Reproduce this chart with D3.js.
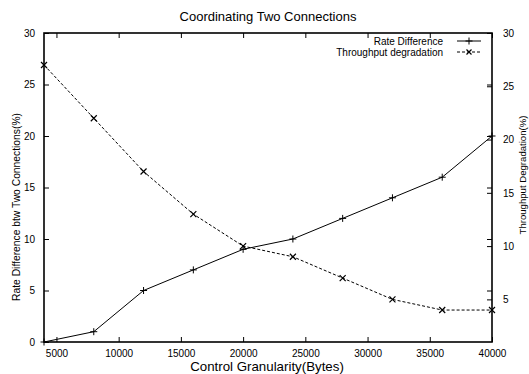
<!DOCTYPE html>
<html>
<head>
<meta charset="utf-8">
<script src="https://cdn.jsdelivr.net/npm/d3@7/dist/d3.min.js"></script>
<style>
  html, body { margin: 0; padding: 0; background: #fff; }
  svg { display: block; font-family: "Liberation Sans", Arial, Helvetica, sans-serif; }
</style>
</head>
<body>
<svg id="chart" width="529" height="374"></svg>
<script>
// ---- data ----
const granularity = [4000, 8000, 12000, 16000, 20000, 24000, 28000, 32000, 36000, 40000];
const rateDifference = [0, 1, 5, 7, 9, 10, 12, 14, 16, 20];
const throughputDegradation = [27, 22, 17, 13, 10, 9, 7, 5, 4, 4];
const xTicks = [5000, 10000, 15000, 20000, 25000, 30000, 35000, 40000];
const yTicks = [0, 5, 10, 15, 20, 25, 30];
const y2Ticks = [5, 10, 15, 20, 25, 30];
const titleText = "Coordinating Two Connections";
const xLabel = "Control Granularity(Bytes)";
const yLabel = "Rate Difference btw Two Connections(%)";
const y2Label = "Throughput Degradation(%)";
const legendNames = ["Rate Difference", "Throughput degradation"];

(function () {
// ---- layout ----
const L = 44, R = 492, T = 33, B = 342;
const svg = d3.select("#chart");
svg.append("rect").attr("width", 529).attr("height", 374).attr("fill", "#fff");

const x = d3.scaleLinear().domain([4000, 40000]).range([L, R]);
const y = d3.scaleLinear().domain([0, 30]).range([B, T]);
const y2 = d3.scaleLinear().domain([1, 30]).range([B, T]);

const tickLen = 5;
const fs = 10;

// bottom axis (ticks inward) + top mirror ticks
const gBottom = svg.append("g").attr("transform", `translate(0,${B})`)
  .call(d3.axisBottom(x).tickValues(xTicks).tickSizeInner(-tickLen).tickSizeOuter(0).tickPadding(8).tickFormat(d3.format("d")));
gBottom.select(".domain").remove();
gBottom.selectAll("text").attr("font-size", fs).attr("font-family", null).attr("fill", "#000");
gBottom.selectAll("line").attr("stroke", "#000");

const gTop = svg.append("g").attr("transform", `translate(0,${T})`)
  .call(d3.axisTop(x).tickValues(xTicks).tickSizeInner(-tickLen).tickSizeOuter(0).tickFormat(""));
gTop.select(".domain").remove();
gTop.selectAll("line").attr("stroke", "#000");

// left axis
const gLeft = svg.append("g").attr("transform", `translate(${L},0)`)
  .call(d3.axisLeft(y).tickValues(yTicks).tickSizeInner(-tickLen).tickSizeOuter(0).tickPadding(9));
gLeft.select(".domain").remove();
gLeft.selectAll("text").attr("font-size", fs).attr("font-family", null).attr("fill", "#000");
gLeft.selectAll("line").attr("stroke", "#000");

// right mirror of left ticks
const gMirror = svg.append("g").attr("transform", `translate(${R},0)`)
  .call(d3.axisRight(y).tickValues(yTicks.filter(d => d > 0 && d < 30)).tickSizeInner(-tickLen).tickSizeOuter(0).tickFormat(""));
gMirror.select(".domain").remove();
gMirror.selectAll("line").attr("stroke", "#000");

// right axis (y2)
const gRight = svg.append("g").attr("transform", `translate(${R},0)`)
  .call(d3.axisRight(y2).tickValues(y2Ticks).tickSizeInner(-tickLen).tickSizeOuter(0).tickPadding(11));
gRight.select(".domain").remove();
gRight.selectAll("text").attr("font-size", fs).attr("font-family", null).attr("fill", "#000");
gRight.selectAll("line").attr("stroke", "#000");

// frame
svg.append("rect").attr("x", L).attr("y", T).attr("width", R - L).attr("height", B - T)
  .attr("fill", "none").attr("stroke", "#000").attr("stroke-width", 1.6);

// ---- series ----
const rateData = granularity.map((g, i) => [g, rateDifference[i]]);
const thrData = granularity.map((g, i) => [g, throughputDegradation[i]]);

svg.append("path").datum(rateData)
  .attr("d", d3.line().x(d => x(d[0])).y(d => y(d[1])))
  .attr("fill", "none").attr("stroke", "#000").attr("stroke-width", 1);

svg.append("path").datum(thrData)
  .attr("d", d3.line().x(d => x(d[0])).y(d => y2(d[1])))
  .attr("fill", "none").attr("stroke", "#000").attr("stroke-width", 1).attr("stroke-dasharray", "3,2");

function plus(g, cx, cy, s) {
  g.append("path").attr("d", `M${cx - s},${cy}H${cx + s}M${cx},${cy - s}V${cy + s}`)
    .attr("stroke", "#000").attr("stroke-width", 1).attr("fill", "none");
}
function cross(g, cx, cy, s) {
  g.append("path").attr("d", `M${cx - s},${cy - s}L${cx + s},${cy + s}M${cx - s},${cy + s}L${cx + s},${cy - s}`)
    .attr("stroke", "#000").attr("stroke-width", 1.2).attr("fill", "none");
}
const marks = svg.append("g");
rateData.forEach(d => plus(marks, x(d[0]), y(d[1]), 3.5));
thrData.forEach(d => cross(marks, x(d[0]), y2(d[1]), 3));

// ---- legend ----
const lg = svg.append("g").attr("font-size", 10);
const lx0 = 457, lx1 = 481, ltx = 443;
const ly = [41, 52];
lg.append("text").attr("x", ltx).attr("y", ly[0]).attr("dy", "0.35em").attr("text-anchor", "end").text(legendNames[0]);
lg.append("line").attr("x1", lx0).attr("x2", lx1).attr("y1", ly[0]).attr("y2", ly[0]).attr("stroke", "#000");
plus(lg, (lx0 + lx1) / 2, ly[0], 3.5);
lg.append("text").attr("x", ltx).attr("y", ly[1]).attr("dy", "0.35em").attr("text-anchor", "end").text(legendNames[1]);
lg.append("line").attr("x1", lx0).attr("x2", lx1).attr("y1", ly[1]).attr("y2", ly[1]).attr("stroke", "#000").attr("stroke-dasharray", "3,2");
cross(lg, (lx0 + lx1) / 2, ly[1], 2.5);

// ---- titles ----
svg.append("text").attr("x", (L + R) / 2).attr("y", 16).attr("dy", "0.35em")
  .attr("text-anchor", "middle").attr("font-size", 13).text(titleText);
svg.append("text").attr("x", 267).attr("y", 366).attr("dy", "0.35em")
  .attr("text-anchor", "middle").attr("font-size", 13.3).text(xLabel);
svg.append("text").attr("transform", `translate(16,207) rotate(-90)`).attr("dy", "0.35em")
  .attr("text-anchor", "middle").attr("font-size", 10.3).text(yLabel);
svg.append("text").attr("transform", `translate(523,175) rotate(-90)`).attr("dy", "0.35em")
  .attr("text-anchor", "middle").attr("font-size", 9.6).text(y2Label);
})();
</script>
</body>
</html>
